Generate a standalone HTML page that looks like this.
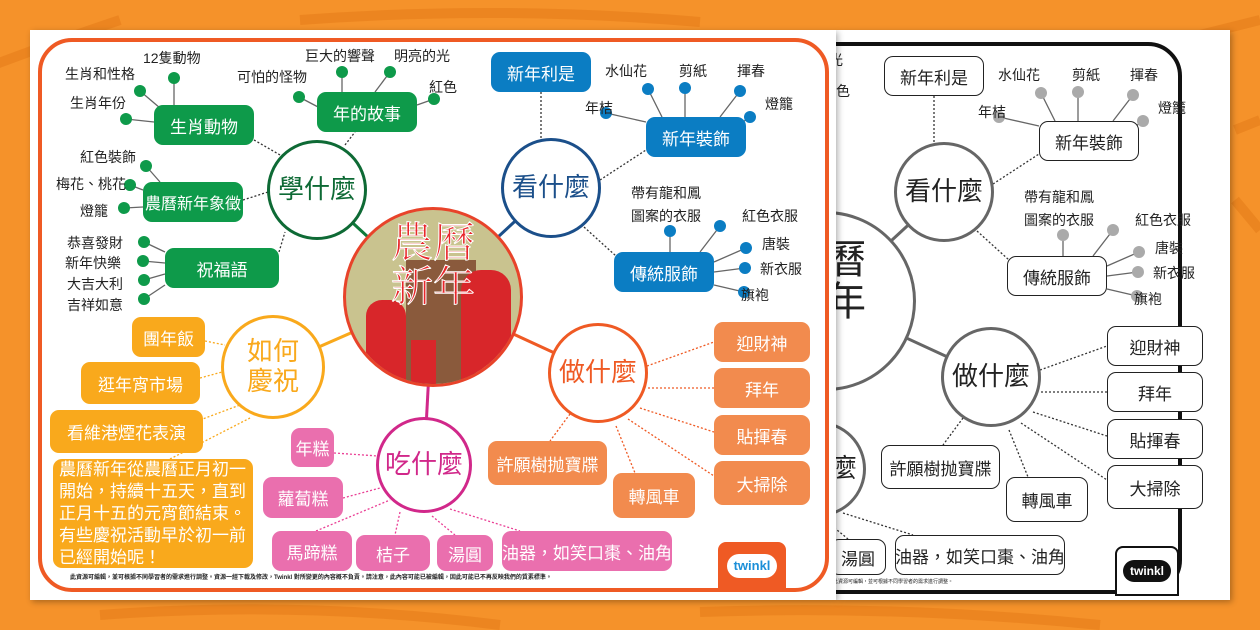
<!DOCTYPE html>
<html><head><meta charset="utf-8">
<style>
*{margin:0;padding:0;box-sizing:border-box}
body{width:1260px;height:630px;overflow:hidden;position:relative;background:#f5922a;font-family:"Liberation Sans","Noto Sans CJK TC",sans-serif}
.abs{position:absolute}
.pg{position:absolute;background:#fff}
.b{position:absolute;display:flex;align-items:center;justify-content:center;border-radius:9px;color:#fff;font-size:17px;white-space:nowrap}
.c{position:absolute;border-radius:50%;background:#fff;display:flex;align-items:center;justify-content:center;font-size:26px;text-align:center;line-height:1.15}
.t{position:absolute;font-size:14px;color:#222;white-space:nowrap;line-height:1}
.d{position:absolute;width:12px;height:12px;border-radius:50%}
.g{background:#0e9a4a}.bl{background:#0b7dc3}.y{background:#f9a91c}.o{background:#f28b4e}.p{background:#ea6fae}
.mono .b{background:#fff;color:#222;border:1.5px solid #222}
.mono .d{background:#aaa}
.mono .c{border-color:#666!important;color:#222!important}
</style></head><body>
<svg class="abs" style="left:0;top:0" width="1260" height="630">
<g stroke="#e8801c" stroke-width="10" fill="none" opacity=".7">
<path d="M-20 70 Q60 40 120 20"/><path d="M1180 40 L1260 20"/><path d="M1235 130 L1260 120"/><path d="M1235 200 L1260 230"/>
<path d="M100 615 Q300 600 500 625"/><path d="M700 612 Q900 605 1100 625"/><path d="M300 20 Q500 5 700 22"/>
</g>
</svg>

<div class="pg" style="left:836px;top:30px;width:394px;height:570px;box-shadow:2px 2px 6px rgba(0,0,0,.3)"></div>
<div class="abs" style="left:836px;top:30px;width:394px;height:570px;overflow:hidden">
 <div class="abs mono" style="left:-443px;top:-26px;width:900px;height:600px">
  <div class="abs" style="left:38px;top:38px;width:751px;height:552px;border:4px solid #111;border-radius:34px"></div>
  <svg class="abs" style="left:0;top:0" width="900" height="600">
   <g stroke="#666" stroke-width="3"><line x1="433" y1="297" x2="551" y2="188"/><line x1="433" y1="297" x2="598" y2="373"/><line x1="433" y1="297" x2="424" y2="465"/></g>
   <g stroke="#333" stroke-width="1.3" stroke-dasharray="2 2" fill="none">
    <line x1="541" y1="92" x2="541" y2="140"/><line x1="600" y1="180" x2="646" y2="150"/><line x1="584" y1="227" x2="616" y2="256"/>
    <line x1="647" y1="366" x2="714" y2="342"/><line x1="648" y1="388" x2="714" y2="388"/><line x1="640" y1="408" x2="714" y2="432"/><line x1="628" y1="419" x2="714" y2="476"/>
    <line x1="570" y1="414" x2="550" y2="441"/><line x1="616" y1="426" x2="635" y2="473"/><line x1="450" y1="509" x2="520" y2="531"/><line x1="432" y1="516" x2="455" y2="535"/>
   </g>
   <g stroke="#666" stroke-width="1.3">
    <line x1="606" y1="113" x2="646" y2="122"/><line x1="648" y1="89" x2="662" y2="117"/><line x1="685" y1="88" x2="685" y2="117"/><line x1="740" y1="91" x2="720" y2="117"/><line x1="750" y1="117" x2="740" y2="124"/>
    <line x1="670" y1="231" x2="670" y2="252"/><line x1="720" y1="226" x2="700" y2="252"/><line x1="746" y1="248" x2="714" y2="262"/><line x1="745" y1="268" x2="714" y2="272"/><line x1="744" y1="292" x2="714" y2="285"/>
   </g>
  </svg>
  <div class="c" style="left:343px;top:207px;width:180px;height:180px;border:3px solid #111"><div style="font-size:40px;color:#222;line-height:1.05;margin-top:-40px">農曆<br>新年</div></div>
  <div class="t" style="left:394px;top:49px">明亮的光</div><div class="t" style="left:429px;top:80px">紅色</div>
  <div class="c" style="left:501px;top:138px;width:100px;height:100px;border:3px solid">看什麼</div>
  <div class="c" style="left:548px;top:323px;width:100px;height:100px;border:3px solid">做什麼</div>
  <div class="c" style="left:377px;top:417px;width:96px;height:96px;border:3px solid">吃什麼</div>
  <div class="b" style="left:491px;top:52px;width:100px;height:40px">新年利是</div>
  <div class="b" style="left:646px;top:117px;width:100px;height:40px">新年裝飾</div>
  <div class="b" style="left:614px;top:252px;width:100px;height:40px">傳統服飾</div>
  <div class="d" style="left:600px;top:107px"></div><div class="t" style="left:585px;top:101px">年桔</div>
  <div class="d" style="left:642px;top:83px"></div><div class="t" style="left:605px;top:64px">水仙花</div>
  <div class="d" style="left:679px;top:82px"></div><div class="t" style="left:679px;top:64px">剪紙</div>
  <div class="d" style="left:734px;top:85px"></div><div class="t" style="left:737px;top:64px">揮春</div>
  <div class="d" style="left:744px;top:111px"></div><div class="t" style="left:765px;top:97px">燈籠</div>
  <div class="t" style="left:631px;top:182px;line-height:23px">帶有龍和鳳<br>圖案的衣服</div>
  <div class="d" style="left:664px;top:225px"></div><div class="d" style="left:714px;top:220px"></div><div class="t" style="left:742px;top:209px">紅色衣服</div>
  <div class="d" style="left:740px;top:242px"></div><div class="t" style="left:762px;top:237px">唐裝</div>
  <div class="d" style="left:739px;top:262px"></div><div class="t" style="left:760px;top:262px">新衣服</div>
  <div class="d" style="left:738px;top:286px"></div><div class="t" style="left:741px;top:288px">旗袍</div>
  <div class="b" style="left:714px;top:322px;width:96px;height:40px">迎財神</div>
  <div class="b" style="left:714px;top:368px;width:96px;height:40px">拜年</div>
  <div class="b" style="left:714px;top:415px;width:96px;height:40px">貼揮春</div>
  <div class="b" style="left:714px;top:461px;width:96px;height:44px">大掃除</div>
  <div class="b" style="left:488px;top:441px;width:119px;height:44px">許願樹抛寶牒</div>
  <div class="b" style="left:613px;top:473px;width:82px;height:45px">轉風車</div>
  <div class="b" style="left:437px;top:535px;width:56px;height:36px">湯圓</div>
  <div class="b" style="left:502px;top:531px;width:170px;height:40px">油器，如笑口棗、油角</div>
  <div class="abs" style="left:722px;top:542px;width:64px;height:50px;border:2px solid #111;border-radius:8px 8px 0 0;background:#fff"><div style="margin:12px auto 0;width:48px;height:22px;border-radius:11px;background:#111;color:#fff;font-size:12px;font-weight:bold;text-align:center;line-height:22px">twinkl</div></div>
  <div class="t" style="left:440px;top:576px;font-size:5px">此資源可編輯，並可根據不同學習者的需求進行調整。</div>
 </div>
</div>

<div class="pg" style="left:30px;top:30px;width:806px;height:570px;box-shadow:2px 2px 6px rgba(0,0,0,.3)"></div>
<div class="abs" style="left:38px;top:38px;width:791px;height:554px;border:4px solid #ef5a24;border-radius:34px"></div>
<svg class="abs" style="left:0;top:0" width="1260" height="630">
 <g stroke-width="3">
  <line x1="433" y1="297" x2="317" y2="190" stroke="#0e7a3a"/><line x1="433" y1="297" x2="551" y2="188" stroke="#1b4f8a"/>
  <line x1="433" y1="297" x2="598" y2="373" stroke="#ef5a24"/><line x1="433" y1="297" x2="424" y2="465" stroke="#d1288a"/>
  <line x1="433" y1="297" x2="273" y2="367" stroke="#f9a91c"/>
 </g>
 <g stroke-width="1.3" stroke-dasharray="2 2" fill="none">
  <g stroke="#333"><line x1="254" y1="140" x2="280" y2="155"/><line x1="345" y1="145" x2="355" y2="132"/><line x1="243" y1="200" x2="268" y2="192"/><line x1="279" y1="252" x2="285" y2="232"/>
  <line x1="541" y1="92" x2="541" y2="140"/><line x1="600" y1="180" x2="646" y2="150"/><line x1="584" y1="227" x2="616" y2="256"/></g>
  <g stroke="#f9a91c"><line x1="205" y1="341" x2="225" y2="345"/><line x1="200" y1="378" x2="222" y2="372"/><line x1="200" y1="420" x2="240" y2="405"/><line x1="170" y1="459" x2="250" y2="418"/></g>
  <g stroke="#ef5a24"><line x1="647" y1="366" x2="714" y2="342"/><line x1="648" y1="388" x2="714" y2="388"/><line x1="640" y1="408" x2="714" y2="432"/><line x1="628" y1="419" x2="714" y2="476"/><line x1="570" y1="414" x2="550" y2="441"/><line x1="616" y1="426" x2="635" y2="473"/></g>
  <g stroke="#ea3f95"><line x1="334" y1="453" x2="378" y2="456"/><line x1="343" y1="498" x2="380" y2="488"/><line x1="316" y1="531" x2="390" y2="500"/><line x1="400" y1="512" x2="395" y2="535"/><line x1="432" y1="516" x2="455" y2="535"/><line x1="450" y1="509" x2="520" y2="531"/></g>
 </g>
 <g stroke="#666" stroke-width="1.3">
  <line x1="174" y1="78" x2="174" y2="105"/><line x1="140" y1="91" x2="160" y2="108"/><line x1="126" y1="119" x2="154" y2="122"/>
  <line x1="299" y1="97" x2="320" y2="108"/><line x1="342" y1="72" x2="342" y2="92"/><line x1="390" y1="72" x2="375" y2="92"/><line x1="434" y1="99" x2="417" y2="105"/>
  <line x1="146" y1="166" x2="160" y2="182"/><line x1="130" y1="185" x2="143" y2="190"/><line x1="124" y1="208" x2="143" y2="207"/>
  <line x1="144" y1="242" x2="165" y2="252"/><line x1="143" y1="261" x2="165" y2="263"/><line x1="144" y1="280" x2="165" y2="274"/><line x1="144" y1="299" x2="165" y2="285"/>
  <line x1="606" y1="113" x2="646" y2="122"/><line x1="648" y1="89" x2="662" y2="117"/><line x1="685" y1="88" x2="685" y2="117"/><line x1="740" y1="91" x2="720" y2="117"/><line x1="750" y1="117" x2="740" y2="124"/>
  <line x1="670" y1="231" x2="670" y2="252"/><line x1="720" y1="226" x2="700" y2="252"/><line x1="746" y1="248" x2="714" y2="262"/><line x1="745" y1="268" x2="714" y2="272"/><line x1="744" y1="292" x2="714" y2="285"/>
 </g>
</svg>

<div class="c" style="left:343px;top:207px;width:180px;height:180px;border:3px solid #e8432a;background:#c9c38f;overflow:hidden">
 <div class="abs" style="left:60px;top:50px;width:70px;height:130px;background:#8a5a3c"></div>
 <div class="abs" style="left:20px;top:90px;width:40px;height:90px;background:#d8262a;border-radius:16px 16px 0 0"></div>
 <div class="abs" style="left:115px;top:60px;width:50px;height:120px;background:#d8262a;border-radius:20px 20px 0 0"></div>
 <div class="abs" style="left:65px;top:130px;width:25px;height:50px;background:#d8262a"></div>
 <div class="abs" style="left:0;top:8px;width:174px;text-align:center;font-size:42px;line-height:1.05;color:#e8262a;-webkit-text-stroke:1px #fff;font-family:'Noto Serif CJK SC',serif">農曆<br>新年</div>
</div>

<div class="c" style="left:267px;top:140px;width:100px;height:100px;border:3px solid #0e6a35;color:#0e6a35">學什麼</div>
<div class="c" style="left:501px;top:138px;width:100px;height:100px;border:3px solid #1b4f8a;color:#1b4f8a">看什麼</div>
<div class="c" style="left:548px;top:323px;width:100px;height:100px;border:3px solid #ef5a24;color:#ef5a24">做什麼</div>
<div class="c" style="left:376px;top:417px;width:96px;height:96px;border:3px solid #d1288a;color:#d1288a">吃什麼</div>
<div class="c" style="left:221px;top:315px;width:104px;height:104px;border:3px solid #f9a91c;color:#f9a91c">如何<br>慶祝</div>

<div class="b g" style="left:154px;top:105px;width:100px;height:40px">生肖動物</div>
<div class="b g" style="left:317px;top:92px;width:100px;height:40px">年的故事</div>
<div class="b g" style="left:143px;top:182px;width:100px;height:40px;font-size:16px">農曆新年象徵</div>
<div class="b g" style="left:165px;top:248px;width:114px;height:40px">祝福語</div>
<div class="d g" style="left:168px;top:72px"></div><div class="t" style="left:143px;top:51px">12隻動物</div>
<div class="d g" style="left:134px;top:85px"></div><div class="t" style="left:65px;top:67px">生肖和性格</div>
<div class="d g" style="left:120px;top:113px"></div><div class="t" style="left:70px;top:96px">生肖年份</div>
<div class="d g" style="left:293px;top:91px"></div><div class="t" style="left:237px;top:70px">可怕的怪物</div>
<div class="d g" style="left:336px;top:66px"></div><div class="t" style="left:305px;top:49px">巨大的響聲</div>
<div class="d g" style="left:384px;top:66px"></div><div class="t" style="left:394px;top:49px">明亮的光</div>
<div class="d g" style="left:428px;top:93px"></div><div class="t" style="left:429px;top:80px">紅色</div>
<div class="d g" style="left:140px;top:160px"></div><div class="t" style="left:80px;top:150px">紅色裝飾</div>
<div class="d g" style="left:124px;top:179px"></div><div class="t" style="left:56px;top:177px">梅花、桃花</div>
<div class="d g" style="left:118px;top:202px"></div><div class="t" style="left:80px;top:204px">燈籠</div>
<div class="d g" style="left:138px;top:236px"></div><div class="t" style="left:67px;top:236px">恭喜發財</div>
<div class="d g" style="left:137px;top:255px"></div><div class="t" style="left:65px;top:256px">新年快樂</div>
<div class="d g" style="left:138px;top:274px"></div><div class="t" style="left:67px;top:277px">大吉大利</div>
<div class="d g" style="left:138px;top:293px"></div><div class="t" style="left:67px;top:298px">吉祥如意</div>

<div class="b bl" style="left:491px;top:52px;width:100px;height:40px">新年利是</div>
<div class="b bl" style="left:646px;top:117px;width:100px;height:40px">新年裝飾</div>
<div class="b bl" style="left:614px;top:252px;width:100px;height:40px">傳統服飾</div>
<div class="d bl" style="left:600px;top:107px"></div><div class="t" style="left:585px;top:101px">年桔</div>
<div class="d bl" style="left:642px;top:83px"></div><div class="t" style="left:605px;top:64px">水仙花</div>
<div class="d bl" style="left:679px;top:82px"></div><div class="t" style="left:679px;top:64px">剪紙</div>
<div class="d bl" style="left:734px;top:85px"></div><div class="t" style="left:737px;top:64px">揮春</div>
<div class="d bl" style="left:744px;top:111px"></div><div class="t" style="left:765px;top:97px">燈籠</div>
<div class="t" style="left:631px;top:182px;line-height:23px">帶有龍和鳳<br>圖案的衣服</div>
<div class="d bl" style="left:664px;top:225px"></div><div class="d bl" style="left:714px;top:220px"></div><div class="t" style="left:742px;top:209px">紅色衣服</div>
<div class="d bl" style="left:740px;top:242px"></div><div class="t" style="left:762px;top:237px">唐裝</div>
<div class="d bl" style="left:739px;top:262px"></div><div class="t" style="left:760px;top:262px">新衣服</div>
<div class="d bl" style="left:738px;top:286px"></div><div class="t" style="left:741px;top:288px">旗袍</div>

<div class="b y" style="left:132px;top:317px;width:73px;height:40px">團年飯</div>
<div class="b y" style="left:81px;top:362px;width:119px;height:42px">逛年宵市場</div>
<div class="b y" style="left:50px;top:410px;width:153px;height:43px">看維港煙花表演</div>
<div class="b y" style="left:53px;top:459px;width:200px;height:109px;white-space:normal;font-size:17px;line-height:22px;padding:2px 6px;justify-content:flex-start;text-align:left">農曆新年從農曆正月初一開始，持續十五天，直到正月十五的元宵節結束。有些慶祝活動早於初一前已經開始呢！</div>

<div class="b o" style="left:714px;top:322px;width:96px;height:40px">迎財神</div>
<div class="b o" style="left:714px;top:368px;width:96px;height:40px">拜年</div>
<div class="b o" style="left:714px;top:415px;width:96px;height:40px">貼揮春</div>
<div class="b o" style="left:714px;top:461px;width:96px;height:44px">大掃除</div>
<div class="b o" style="left:488px;top:441px;width:119px;height:44px">許願樹抛寶牒</div>
<div class="b o" style="left:613px;top:473px;width:82px;height:45px">轉風車</div>

<div class="b p" style="left:291px;top:428px;width:43px;height:39px">年糕</div>
<div class="b p" style="left:263px;top:477px;width:80px;height:41px">蘿蔔糕</div>
<div class="b p" style="left:272px;top:531px;width:80px;height:40px">馬蹄糕</div>
<div class="b p" style="left:356px;top:535px;width:74px;height:36px">桔子</div>
<div class="b p" style="left:437px;top:535px;width:56px;height:36px">湯圓</div>
<div class="b p" style="left:502px;top:531px;width:170px;height:40px">油器，如笑口棗、油角</div>

<div class="abs" style="left:718px;top:542px;width:68px;height:50px;background:#ef5a24;border-radius:8px 8px 0 0"><div style="margin:12px auto 0;width:50px;height:24px;border-radius:12px;background:#fff;color:#1b8fd8;font-size:13px;font-weight:bold;text-align:center;line-height:24px">twinkl</div></div>
<div class="t" style="left:70px;top:575px;font-size:6px;font-weight:bold">此資源可編輯，並可根據不同學習者的需求進行調整。資源一經下載及修改，Twinkl 對所變更的內容概不負責。請注意，此內容可能已被編輯，因此可能已不再反映我們的質素標準。</div>
</body></html>
